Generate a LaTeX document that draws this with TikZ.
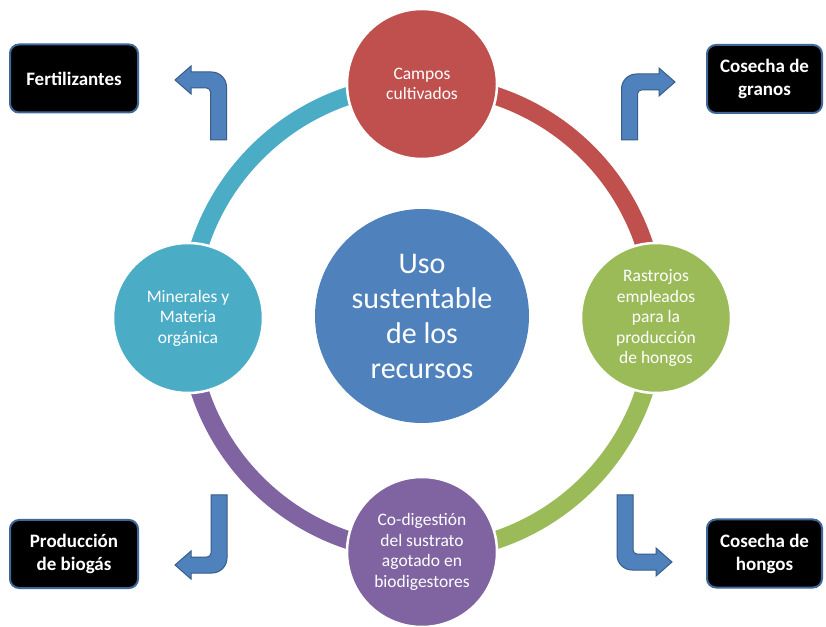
\documentclass[tikz,border=0pt]{standalone}
\usepackage{fontspec}
\setmainfont{Carlito}
\usetikzlibrary{backgrounds}
\definecolor{cred}{HTML}{C0504D}
\definecolor{cgreen}{HTML}{9BBB59}
\definecolor{cpurple}{HTML}{8064A2}
\definecolor{ccyan}{HTML}{4BACC6}
\definecolor{cblue}{HTML}{4F81BD}
\definecolor{cedge}{HTML}{385D8A}
\tikzset{
  cyclenode/.style={circle, minimum size=150pt, inner sep=0pt, draw=white, line width=2.5pt,
    text=white, align=center, font=\fontsize{17.5}{20.5}\selectfont},
  ringarc/.style={line width=18pt},
  blackbox/.style={rectangle, rounded corners=9pt, fill=black, draw=cblue!80!black, line width=2pt,
    text=white, align=center, font=\bfseries\fontsize{19}{23}\selectfont, minimum height=68pt},
  arrowshape/.style={fill=cblue, draw=cedge, line width=1pt},
  pics/bentarrow/.style 2 args={code={
    \filldraw[arrowshape] (8,0) [rounded corners=15pt] -- (8,#1+8) [sharp corners]
      -- ({-#2+16},#1+8) -- ({-#2+16},#1+14) -- ({-#2},#1) -- ({-#2+16},#1-14)
      -- ({-#2+16},#1-8) [rounded corners=4pt] -- (-8,#1-8) [sharp corners] -- (-8,0) -- cycle;
  }}
}
\begin{document}
\begin{tikzpicture}[x=1pt,y=1pt]
\useasboundingbox (0,0) rectangle (826,626);
% ring centre
\coordinate (ring) at (422,308);
% centre circle
\node[circle, minimum size=214pt, inner sep=0pt, fill=cblue, text=white, align=center,
  font=\fontsize{30}{35}\selectfont] (uso) at (422,310) {Uso\\sustentable\\de los\\recursos};
% cycle nodes
\node[cyclenode, fill=cred] (campos) at (422,542) {Campos\\cultivados};
\node[cyclenode, fill=cgreen] (rastrojos) at (656,308) {Rastrojos\\empleados\\para la\\producción\\de hongos};
\node[cyclenode, fill=cpurple] (codig) at (422,74) {Co-digestión\\del sustrato\\agotado en\\biodigestores};
\node[cyclenode, fill=ccyan] (minerales) at (188,308) {Minerales y\\Materia\\orgánica};
% ring arcs
\begin{pgfonlayer}{background}
\fill[white] (0,0) rectangle (826,626);
\draw[ringarc, cred] (campos.center) arc[start angle=90, end angle=0, radius=234];
\draw[ringarc, cgreen] (rastrojos.center) arc[start angle=0, end angle=-90, radius=234];
\draw[ringarc, cpurple] (codig.center) arc[start angle=-90, end angle=-180, radius=234];
\draw[ringarc, ccyan] (minerales.center) arc[start angle=180, end angle=90, radius=234];
\end{pgfonlayer}
% output boxes
\node[blackbox, minimum width=128pt] (fert) at (74,547.5) {Fertilizantes};
\node[blackbox, minimum width=115pt] (granos) at (764.5,547) {Cosecha de\\granos};
\node[blackbox, minimum width=128pt] (biogas) at (74,72) {Producción\\de biogás};
\node[blackbox, minimum width=115pt] (hongos) at (764.5,72.5) {Cosecha de\\hongos};
% bent arrows
\pic at (218.5,486) {bentarrow={60}{43.5}};
\pic[xscale=-1] at (629.5,486) {bentarrow={58}{45.5}};
\pic[yscale=-1] at (219,131) {bentarrow={70}{44}};
\pic[xscale=-1,yscale=-1] at (625,131) {bentarrow={67}{47}};
\end{tikzpicture}
\end{document}
